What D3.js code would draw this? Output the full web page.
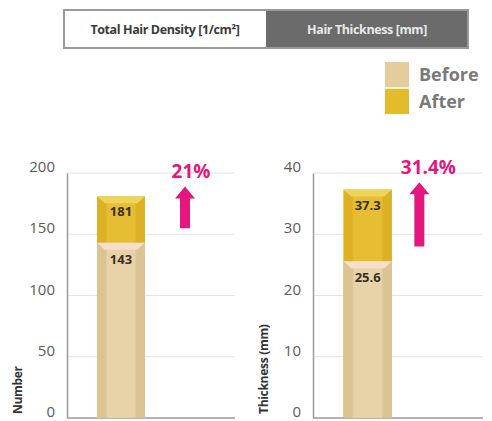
<!DOCTYPE html>
<html>
<head>
<meta charset="utf-8">
<script src="https://cdn.jsdelivr.net/npm/d3@7"></script>
<style>
  html, body { margin: 0; padding: 0; background: #fff; }
  svg { display: block; }
  text { font-family: "Open Sans", "Noto Sans", sans-serif; }
</style>
</head>
<body>
<svg id="chart" width="492" height="421"></svg>
<script>
// Tab headers
const tabLabels = ["Total Hair Density [1/cm²]", "Hair Thickness [mm]"];

// Legend / series names
const seriesNames = ["Before", "After"];
const seriesColors = ["#e4cc9c", "#e5bb2e"];

// Panel 1: hair density
const densityTicks = [0, 50, 100, 150, 200];
const densityValues = [143, 181];          // before, after
const densityChange = "21%";
const densityArrow = [155, 189];            // arrow span, in axis units

// Panel 2: hair thickness
const thicknessTicks = [0, 10, 20, 30, 40];
const thicknessValues = [25.6, 37.3];       // before, after
const thicknessChange = "31.4%";
const thicknessArrow = [28, 38.5];

const bandNames = ["Before · After", "Change"];

const svg = d3.select("#chart");
const defs = svg.append("defs");

// Horizontal shading gradients for the bars
function shade(id, edge, mid) {
  const g = defs.append("linearGradient").attr("id", id).attr("x1", 0).attr("x2", 1).attr("y1", 0).attr("y2", 0);
  [[0, edge], [0.18, edge], [0.22, mid], [0.78, mid], [0.82, edge], [1, edge]]
    .forEach(([o, c]) => g.append("stop").attr("offset", o).attr("stop-color", c));
}
shade("gBefore", "#dcc394", "#e8d3a9");
shade("gAfter", "#dcb126", "#e6be34");

// ---- Tabs ----
const tabX = d3.scaleBand().domain(tabLabels).range([64, 468]).padding(0);
const tabY = 10, tabH = 38;
svg.append("rect").attr("x", tabX(tabLabels[1])).attr("y", tabY)
  .attr("width", tabX.bandwidth()).attr("height", tabH).attr("fill", "#6b6b6b");
svg.append("rect").attr("x", tabX(tabLabels[0])).attr("y", tabY)
  .attr("width", tabX.bandwidth() * 2).attr("height", tabH)
  .attr("fill", "none").attr("stroke", "#9a9a9a").attr("stroke-width", 2);
svg.selectAll("text.tab").data(tabLabels).join("text")
  .attr("class", "tab")
  .attr("x", d => tabX(d) + tabX.bandwidth() / 2)
  .attr("y", tabY + tabH / 2 + 4.5)
  .attr("text-anchor", "middle")
  .attr("font-size", 12.5).attr("font-weight", 700)
  .attr("letter-spacing", -0.4)
  .attr("fill", (d, i) => i === 0 ? "#3a3a3a" : "#e8e8e8")
  .text(d => d);

// ---- Legend ----
const legY = d3.scaleBand().domain(seriesNames).range([62, 114]).paddingInner(0.06);
const leg = svg.append("g");
leg.selectAll("rect").data(seriesNames).join("rect")
  .attr("x", 385).attr("y", d => legY(d))
  .attr("width", 24).attr("height", legY.bandwidth())
  .attr("fill", (d, i) => seriesColors[i]);
leg.selectAll("text").data(seriesNames).join("text")
  .attr("x", 419).attr("y", d => legY(d) + legY.bandwidth() / 2 + 6.5)
  .attr("font-size", 18).attr("font-weight", 700).attr("fill", "#7a7a7a")
  .text(d => d);

// ---- Panels ----
function panel(cfg) {
  const g = svg.append("g");
  const y = d3.scaleLinear().domain([0, cfg.ticks[cfg.ticks.length - 1]]).range([418, 173]);
  const x = d3.scaleBand().domain(bandNames).range([cfg.left, cfg.right])
    .paddingInner(0.2).paddingOuter(0.5);

  // gridlines
  g.selectAll("line.grid").data(cfg.ticks.slice(1)).join("line")
    .attr("x1", cfg.left).attr("x2", cfg.right)
    .attr("y1", d => y(d)).attr("y2", d => y(d))
    .attr("stroke", "#e4e4e4").attr("stroke-width", 1);

  // y axis
  const ax = g.append("g").attr("transform", `translate(${cfg.left},0)`)
    .call(d3.axisLeft(y).tickValues(cfg.ticks).tickSize(0).tickPadding(12));
  ax.select(".domain").attr("stroke", "#9a9a9a").attr("stroke-width", 1.5);
  ax.selectAll("text").attr("font-size", 15).attr("fill", "#5a5a5a")
    .attr("font-family", "'Open Sans', sans-serif").attr("dy", "-0.1em");

  // baseline
  g.append("line").attr("x1", cfg.left).attr("x2", cfg.right)
    .attr("y1", y(0)).attr("y2", y(0)).attr("stroke", "#9a9a9a").attr("stroke-width", 1.5);

  // axis title
  g.append("text")
    .attr("transform", `translate(${cfg.left - 45},${y(0) - 4}) rotate(-90)`)
    .attr("font-size", 12).attr("font-weight", 700).attr("fill", "#333")
    .attr("letter-spacing", -0.3)
    .text(cfg.title);

  const bx = x(bandNames[0]), bw = x.bandwidth();
  const fills = ["url(#gBefore)", "url(#gAfter)"];
  const bevel = ["#f5dfc9", "#f0d35a"];
  // after bar behind, before bar in front
  const order = [1, 0];
  order.forEach(i => {
    const v = cfg.values[i];
    g.append("rect").attr("x", bx).attr("y", y(v)).attr("width", bw)
      .attr("height", y(0) - y(v)).attr("fill", fills[i]);
    // bevelled top face
    const t = y(v), d = 7, inset = bw * 0.16;
    g.append("path")
      .attr("d", `M${bx},${t}L${bx + bw},${t}L${bx + bw - inset},${t + d}L${bx + inset},${t + d}Z`)
      .attr("fill", bevel[i]);
  });

  // value labels
  const labelY = [y(cfg.values[0]) + 21, y(cfg.values[1]) + 20];
  cfg.values.forEach((v, i) => {
    g.append("text").attr("x", bx + bw / 2).attr("y", labelY[i])
      .attr("text-anchor", "middle").attr("font-size", 13).attr("font-weight", 700)
      .attr("fill", "#3a3024").text(v);
  });

  // change arrow
  const cx = x(bandNames[1]) + x.bandwidth() / 2 + cfg.arrowShift;
  const top = y(cfg.arrow[1]), bot = y(cfg.arrow[0]);
  const sw = 5, hw = 10, hh = 12;
  g.append("path")
    .attr("d", `M${cx},${top}L${cx + hw},${top + hh}L${cx + sw},${top + hh}L${cx + sw},${bot}` +
               `L${cx - sw},${bot}L${cx - sw},${top + hh}L${cx - hw},${top + hh}Z`)
    .attr("fill", "#e3177e");
  g.append("text").attr("x", cx + cfg.textShift).attr("y", top - 8)
    .attr("text-anchor", "middle").attr("font-size", 19).attr("font-weight", 700)
    .attr("fill", "#e3177e").text(cfg.change);
}

panel({ left: 67, right: 235, ticks: densityTicks, values: densityValues,
        change: densityChange, arrow: densityArrow, title: "Number", arrowShift: 4, textShift: 6 });
panel({ left: 313, right: 483, ticks: thicknessTicks, values: thicknessValues,
        change: thicknessChange, arrow: thicknessArrow, title: "Thickness (mm)", arrowShift: -9, textShift: 9 });
</script>
</body>
</html>
